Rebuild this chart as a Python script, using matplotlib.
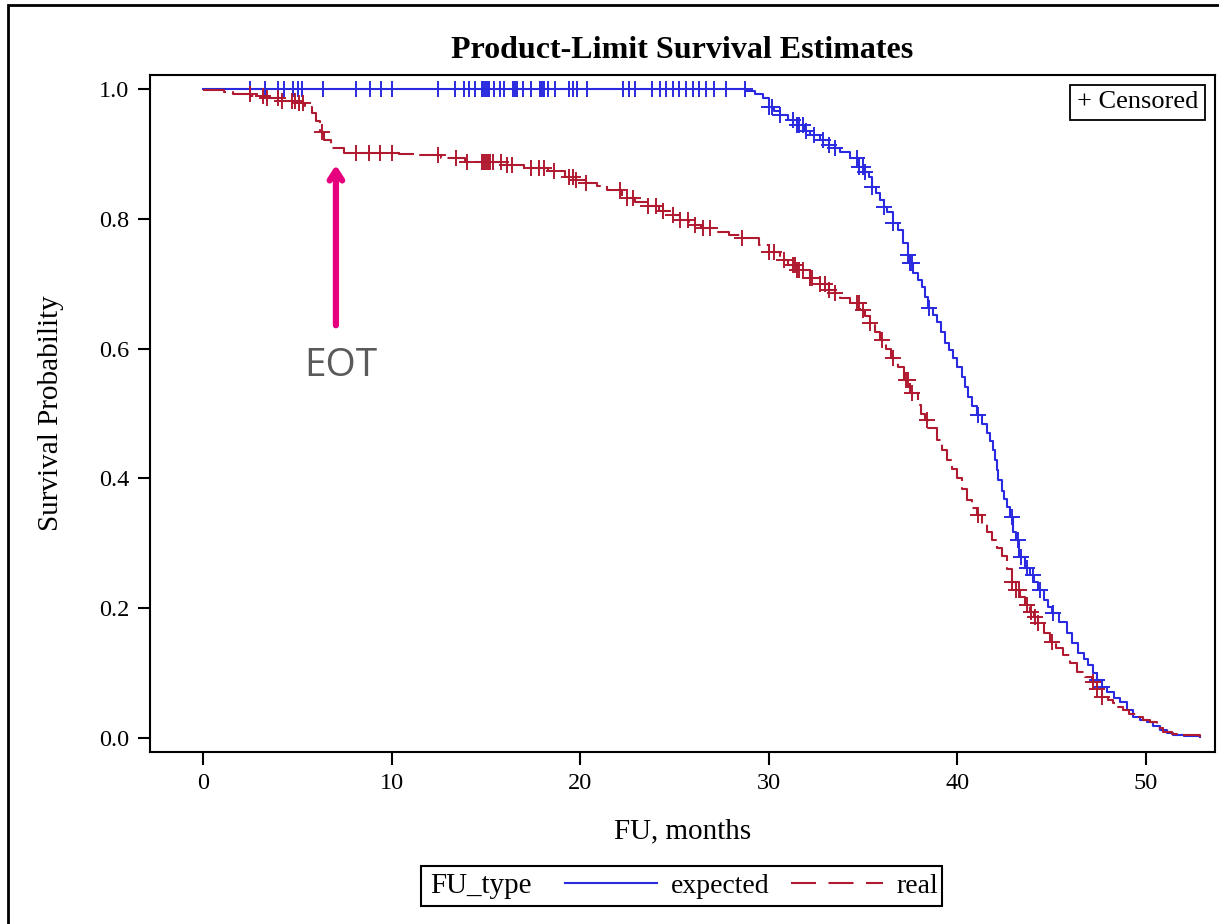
import numpy as np
import matplotlib
matplotlib.use("Agg")
import matplotlib.pyplot as plt
from matplotlib.lines import Line2D
from matplotlib.patches import Rectangle

plt.rcParams['font.family'] = ['Liberation Serif', 'DejaVu Serif']

# expected follow-up: KM step knots (months, survival)
exp_t = [0, 28.8, 29.3, 29.7, 30.0, 30.3, 30.6, 31.0, 31.5, 31.9,
         32.2, 32.7, 33.2, 33.5, 33.8, 34.3, 34.8, 35.1, 35.3, 35.5,
         35.7, 35.9, 36.1, 36.3, 36.6, 36.86, 37.13, 37.39, 37.5, 37.66,
         37.9, 38.13, 38.3, 38.45, 38.7, 38.93, 39.15, 39.35, 39.55, 39.78,
         40.0, 40.26, 40.4, 40.57, 40.8, 41.05, 41.3, 41.58, 41.75, 41.9,
         42.0, 42.1, 42.17, 42.38, 42.5, 42.64, 42.8, 42.96, 43.1, 43.3,
         43.6, 43.86, 44.05, 44.29, 44.6, 44.8, 45.03, 45.4, 45.8, 46.1,
         46.4, 46.7, 46.94, 47.2, 47.4, 47.7, 47.95, 48.3, 48.64, 49.0,
         49.33, 49.7, 50.07, 50.4, 50.76, 51.1, 51.45, 52.0, 52.9]
exp_s = [1.0, 0.997, 0.992, 0.986, 0.972, 0.966, 0.960, 0.952, 0.944, 0.936,
         0.929, 0.922, 0.914, 0.909, 0.903, 0.893, 0.880, 0.872, 0.864, 0.849,
         0.840, 0.829, 0.818, 0.810, 0.794, 0.783, 0.763, 0.744, 0.732, 0.716,
         0.705, 0.695, 0.680, 0.663, 0.652, 0.641, 0.625, 0.609, 0.598, 0.586,
         0.572, 0.556, 0.541, 0.525, 0.512, 0.498, 0.484, 0.470, 0.457, 0.444,
         0.428, 0.413, 0.398, 0.380, 0.368, 0.356, 0.340, 0.318, 0.305, 0.279,
         0.262, 0.251, 0.240, 0.228, 0.213, 0.202, 0.193, 0.178, 0.162, 0.146,
         0.131, 0.121, 0.112, 0.100, 0.089, 0.078, 0.071, 0.062, 0.055, 0.043,
         0.032, 0.028, 0.025, 0.018, 0.012, 0.008, 0.005, 0.003, 0.002]

# real follow-up
real_t = [0, 1.1, 1.6, 2.5, 3.3, 4.2, 5.1, 5.4, 5.8, 6.0,
          6.2, 6.4, 6.8, 7.5, 8.2, 10.4, 11.2, 12.6, 13.9, 15.9,
          17.0, 18.3, 19.2, 19.8, 20.3, 20.9, 21.4, 22.2, 22.9, 23.6,
          24.2, 24.7, 25.3, 25.8, 26.4, 27.1, 27.9, 28.6, 29.5, 30.0,
          30.6, 31.0, 31.5, 32.2, 32.7, 33.2, 33.5, 33.8, 34.3, 34.85,
          35.1, 35.4, 35.65, 35.9, 36.2, 36.5, 36.86, 37.2, 37.5, 37.9,
          38.1, 38.3, 38.45, 38.93, 39.2, 39.46, 39.7, 39.99, 40.25, 40.5,
          40.8, 41.05, 41.3, 41.58, 41.85, 42.1, 42.38, 42.65, 42.9, 43.1,
          43.33, 43.6, 43.86, 44.05, 44.29, 44.6, 44.9, 45.25, 45.6, 46.0,
          46.35, 46.75, 47.15, 47.4, 47.68, 48.0, 48.27, 48.5, 48.8, 49.1,
          49.5, 49.85, 50.2, 50.6, 50.9, 51.4, 51.8, 52.9]
real_s = [0.998, 0.995, 0.992, 0.989, 0.986, 0.982, 0.978, 0.973, 0.963, 0.950,
          0.934, 0.921, 0.909, 0.902, 0.901, 0.900, 0.898, 0.893, 0.888, 0.883,
          0.879, 0.873, 0.865, 0.860, 0.855, 0.850, 0.844, 0.832, 0.826, 0.819,
          0.812, 0.806, 0.798, 0.790, 0.786, 0.780, 0.775, 0.770, 0.760, 0.749,
          0.737, 0.729, 0.721, 0.709, 0.700, 0.690, 0.685, 0.678, 0.670, 0.659,
          0.650, 0.639, 0.626, 0.613, 0.600, 0.586, 0.572, 0.552, 0.532, 0.513,
          0.500, 0.490, 0.478, 0.459, 0.444, 0.428, 0.414, 0.401, 0.384, 0.367,
          0.355, 0.344, 0.330, 0.317, 0.305, 0.292, 0.280, 0.260, 0.240, 0.228,
          0.217, 0.205, 0.194, 0.186, 0.177, 0.162, 0.148, 0.138, 0.128, 0.115,
          0.102, 0.094, 0.086, 0.075, 0.063, 0.058, 0.054, 0.048, 0.043, 0.037,
          0.032, 0.028, 0.025, 0.015, 0.009, 0.006, 0.005, 0.002]

# censoring times
exp_cens = [2.47, 3.3, 3.96, 4.27, 4.77, 5.04, 5.26, 6.36, 8.1, 8.84, 9.44, 10.05,
            12.46, 13.39, 13.83, 14.1, 14.4, 14.8, 14.9, 15.0, 15.1, 15.16, 15.43,
            15.76, 15.99, 16.43, 16.55, 16.65, 16.97, 17.37, 17.87, 18.0, 18.08,
            18.29, 18.69, 19.39, 19.62, 19.83, 20.36, 22.25, 22.58, 22.9, 23.79,
            24.23, 24.55, 24.9, 25.22, 25.6, 25.98, 26.3, 26.69, 27.08, 27.73,
            28.74, 30.0, 30.2, 30.6, 31.3, 31.5, 31.6, 31.8, 32.0, 32.4, 32.9,
            33.2, 33.5, 34.7, 34.8, 35.0, 35.1, 35.5, 36.1, 36.6, 37.4, 37.5,
            37.6, 38.5, 41.1, 42.9, 43.2, 43.4, 43.7, 44.0, 44.4, 45.1, 47.4, 47.7]
real_cens = [2.47, 3.2, 3.4, 4.0, 4.2, 4.7, 4.9, 5.1, 5.3, 6.3, 8.1, 8.8, 9.4,
             10.05, 12.45, 13.4, 14.0, 14.8, 14.9, 15.0, 15.1, 15.2, 15.4, 15.8,
             16.1, 16.4, 17.4, 17.8, 18.1, 18.6, 19.4, 19.6, 19.8, 20.3, 22.1,
             22.5, 22.8, 23.6, 24.0, 24.4, 24.9, 25.3, 25.7, 26.1, 26.5, 26.9,
             28.6, 30.0, 30.3, 30.8, 31.3, 31.4, 31.5, 31.6, 31.8, 32.2, 32.3,
             32.7, 33.0, 33.2, 33.5, 34.7, 34.8, 35.0, 35.4, 36.0, 36.6, 37.3,
             37.4, 37.6, 38.4, 41.1, 42.9, 43.1, 43.3, 43.7, 43.9, 44.1, 44.3,
             45.0, 47.2, 47.4, 47.7]

BLUE = '#2a2ae0'
RED = '#b01a30'


def step_value(t, s, c):
    idx = np.searchsorted(np.array(t), np.array(c), side='right') - 1
    return np.array(s)[idx]


fig = plt.figure(figsize=(12.19, 9.24), dpi=100)
ax = fig.add_axes([150/1219, 1-752/924, 1065/1219, 677/924])

ax.plot(exp_t, exp_s, drawstyle='steps-post', color=BLUE, lw=1.5)
ax.plot(real_t, real_s, drawstyle='steps-post', color=RED, lw=1.5, dashes=(12, 3))
ax.plot(exp_cens, step_value(exp_t, exp_s, exp_cens), ls='none', marker='+',
        ms=11, mew=1.4, color=BLUE)
ax.plot(real_cens, step_value(real_t, real_s, real_cens), ls='none', marker='+',
        ms=11, mew=1.4, color=RED)

ax.set_xlim(-2.81, 53.67)
ax.set_ylim(-0.0216, 1.0216)
ax.set_xticks([0, 10, 20, 30, 40, 50])
ax.set_yticks([0.0, 0.2, 0.4, 0.6, 0.8, 1.0])
ax.set_yticklabels(['0.0', '0.2', '0.4', '0.6', '0.8', '1.0'])
ax.tick_params(direction='out', length=9, width=1.5, labelsize=17.5, pad=6)
for sp in ax.spines.values():
    sp.set_linewidth(1.5)

ax.set_xlabel('FU, months', fontsize=21, labelpad=18)
ax.set_ylabel('Survival Probability', fontsize=21, labelpad=25)
ax.set_title('Product-Limit Survival Estimates', fontsize=23, fontweight='bold', pad=12)

ax.text(0.984, 0.976, '+ Censored', transform=ax.transAxes, ha='right', va='top',
        fontsize=19, bbox=dict(boxstyle='square,pad=0.25', fc='white', ec='black', lw=1.3))

# EOT annotation
ax.annotate('', xy=(7.05, 0.883), xytext=(7.05, 0.636),
            arrowprops=dict(arrowstyle='->,head_length=0.7,head_width=0.45',
                            color='#e6007e', lw=4.5, shrinkA=0, shrinkB=0))
ax.text(7.3, 0.573, 'EOT', fontsize=28, color='#5a5a5a', ha='center', va='center',
        family=['Open Sans', 'DejaVu Sans'])

# bottom legend
handles = [Line2D([], [], color=BLUE, lw=1.5),
           Line2D([], [], color=RED, lw=1.5, dashes=(12, 6))]
fig.legend(handles, ['expected', 'real'], loc='center left',
           bbox_to_anchor=(565/1219, 1-886/924), ncol=2, frameon=False,
           borderpad=0, borderaxespad=0, handlelength=3.3, handletextpad=0.5,
           columnspacing=0.8, fontsize=20)
fig.text(430/1219, 1-886/924, 'FU_type', fontsize=21, va='center', ha='left')
fig.patches.append(Rectangle((421/1219, 1-906/924), 521/1219, 40/924,
                             transform=fig.transFigure, fill=False, ec='black', lw=1.5))

# outer frame
fig.patches.append(Rectangle((8/1219, -0.1), 1.2, 1.1 - 5/924,
                             transform=fig.transFigure, fill=False, ec='black', lw=2,
                             clip_on=False))

fig.savefig('out.png', dpi=100)
